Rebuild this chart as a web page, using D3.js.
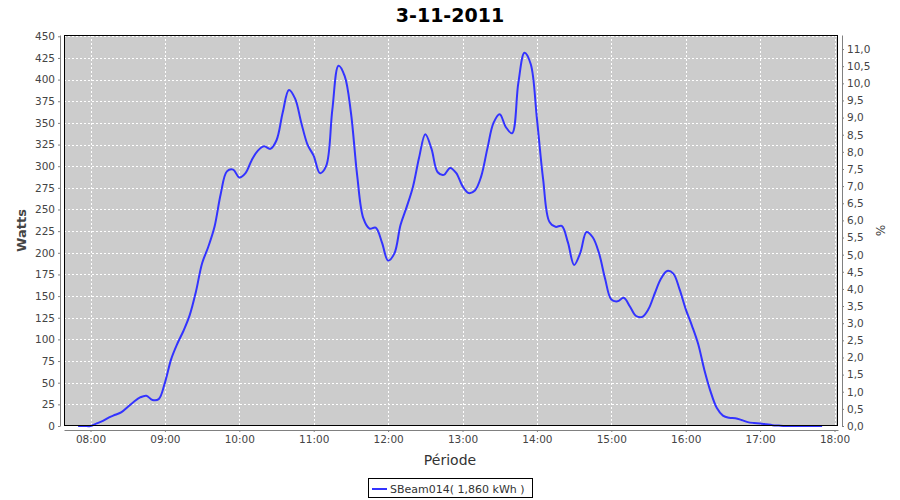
<!DOCTYPE html>
<html><head><meta charset="utf-8">
<script src="https://cdn.jsdelivr.net/npm/d3@7"></script>
<style>body{margin:0;background:#fff}svg{display:block}</style>
</head><body>
<svg id="c" width="900" height="500"></svg>
<script>
const title = "3-11-2011";
const seriesName = "SBeam014( 1,860 kWh )";
const times = ["07:50","07:55","08:00","08:05","08:10","08:15","08:20","08:25","08:30","08:35","08:40","08:45","08:50","08:55",
"09:00","09:05","09:10","09:15","09:20","09:25","09:30","09:35","09:40","09:45","09:50","09:55",
"10:00","10:05","10:10","10:15","10:20","10:25","10:30","10:35","10:40","10:45","10:50","10:55",
"11:00","11:05","11:10","11:15","11:20","11:25","11:30","11:35","11:40","11:45","11:50","11:55",
"12:00","12:05","12:10","12:15","12:20","12:25","12:30","12:35","12:40","12:45","12:50","12:55",
"13:00","13:05","13:10","13:15","13:20","13:25","13:30","13:35","13:40","13:45","13:50","13:55",
"14:00","14:05","14:10","14:15","14:20","14:25","14:30","14:35","14:40","14:45","14:50","14:55",
"15:00","15:05","15:10","15:15","15:20","15:25","15:30","15:35","15:40","15:45","15:50","15:55",
"16:00","16:05","16:10","16:15","16:20","16:25","16:30","16:35","16:40","16:45","16:50","16:55",
"17:00","17:05","17:10","17:15","17:20","17:25","17:30","17:35","17:40","17:45","17:50"];
const watts = [0,0,0,3,6,10,13,16,22,28,33,35,30,31,
50,77,95,110,128,155,188,207,230,268,294,296,
287,292,307,318,323,320,330,362,388,378,350,325,
312,292,300,365,416,404,362,290,240,228,229,212,
191,199,232,253,276,310,337,320,293,290,298,292,
277,269,272,288,320,350,360,345,338,396,431,418,
355,285,236,230,231,212,186,200,224,218,200,170,
146,144,148,138,127,126,135,153,170,179,176,158,
135,116,95,65,40,21,12,9.5,9,7,4.5,3.5,
3,2,1,0.5,0,0,0,0,0,0,0];
const xTicks = ["08:00","09:00","10:00","11:00","12:00","13:00","14:00","15:00","16:00","17:00","18:00"];
const leftTicks = d3.range(0, 451, 25);
const rightTicks = d3.range(0, 11.01, 0.5);

const day = s => { const [h,m] = s.split(":").map(Number); return new Date(2011,10,3,h,m,0); };
const data = times.map((t,i)=>({t:day(t), v:watts[i]}));

const svg = d3.select("#c");
const L=64, R=838, T=35, B=426;
const x = d3.scaleTime().domain([new Date(2011,10,3,7,38,37), new Date(2011,10,3,18,2,49)]).range([L,R]);
const y = d3.scaleLinear().domain([0,451.5]).range([B,T]);
const y2 = d3.scaleLinear().domain([0,11.41]).range([B,T]);

const tickFont = "DejaVu Sans, sans-serif";
const tickColor = "#444";

svg.append("rect").attr("x",L).attr("y",T).attr("width",R-L).attr("height",B-T).attr("fill","#cccccc");
const g = svg.append("g");
g.selectAll("line.h").data(leftTicks).join("line")
 .attr("x1",L).attr("x2",R).attr("y1",d=>Math.round(y(d))+0.5).attr("y2",d=>Math.round(y(d))+0.5)
 .attr("stroke","#fff").attr("stroke-dasharray","2,2").attr("stroke-width",1);
g.selectAll("line.v").data(xTicks).join("line")
 .attr("y1",T).attr("y2",B).attr("x1",d=>Math.round(x(day(d)))+0.5).attr("x2",d=>Math.round(x(day(d)))+0.5)
 .attr("stroke","#fff").attr("stroke-dasharray","2,2").attr("stroke-width",1);

const line = d3.line().x(d=>x(d.t)).y(d=>y(Math.max(0,d.v))).curve(d3.curveCatmullRom.alpha(0.5));
svg.append("path").datum(data).attr("d",line).attr("fill","none").attr("stroke","#3333ff").attr("stroke-width",2);

svg.append("rect").attr("x",L+0.5).attr("y",T+0.5).attr("width",R-L-1).attr("height",B-T-1).attr("fill","none").attr("stroke","#000").attr("stroke-width",1);

function styleAxis(sel){
  sel.select(".domain").attr("stroke","#808080");
  sel.selectAll(".tick line").attr("stroke","#808080");
  sel.selectAll(".tick text").attr("fill",tickColor).style("font-family",tickFont).style("font-size","10.5px");
}
const ax = svg.append("g").attr("transform",`translate(0,${B+4})`)
  .call(d3.axisBottom(x).tickValues(xTicks.map(day)).tickFormat(d3.timeFormat("%H:%M")).tickSize(2).tickSizeOuter(0).tickPadding(4));
styleAxis(ax);
const ay = svg.append("g").attr("transform",`translate(${L-4},0)`)
  .call(d3.axisLeft(y).tickValues(leftTicks).tickFormat(d3.format("d")).tickSize(2).tickSizeOuter(0).tickPadding(3));
styleAxis(ay);
const ay2 = svg.append("g").attr("transform",`translate(${R+4},0)`)
  .call(d3.axisRight(y2).tickValues(rightTicks).tickFormat(d=>d3.format(".1f")(d).replace(".",",")).tickSize(2).tickSizeOuter(0).tickPadding(3));
styleAxis(ay2);

svg.append("text").attr("x",450).attr("y",22).attr("text-anchor","middle")
 .style("font-family","DejaVu Sans, sans-serif").style("font-weight","bold").style("font-size","19px").attr("fill","#000").text(title);
svg.append("text").attr("transform",`translate(26,${(T+B)/2}) rotate(-90)`).attr("text-anchor","middle")
 .style("font-family","DejaVu Sans, sans-serif").style("font-weight","bold").style("font-size","13px").attr("fill",tickColor).text("Watts");
svg.append("text").attr("transform",`translate(876,${(T+B)/2}) rotate(90)`).attr("text-anchor","middle")
 .style("font-family","DejaVu Sans, sans-serif").style("font-size","12px").attr("fill",tickColor).text("%");
svg.append("text").attr("x",450).attr("y",465).attr("text-anchor","middle")
 .style("font-family","DejaVu Sans, sans-serif").style("font-size","14px").attr("fill","#333").text("Période");

const lg = svg.append("g");
lg.append("rect").attr("x",368.5).attr("y",478.5).attr("width",164).attr("height",19).attr("fill","#fff").attr("stroke","#000");
lg.append("line").attr("x1",372).attr("x2",387).attr("y1",489).attr("y2",489).attr("stroke","#3333ff").attr("stroke-width",2);
lg.append("text").attr("x",390).attr("y",493).style("font-family",tickFont).style("font-size","11px").attr("fill","#333").text(seriesName);
</script>
</body></html>
